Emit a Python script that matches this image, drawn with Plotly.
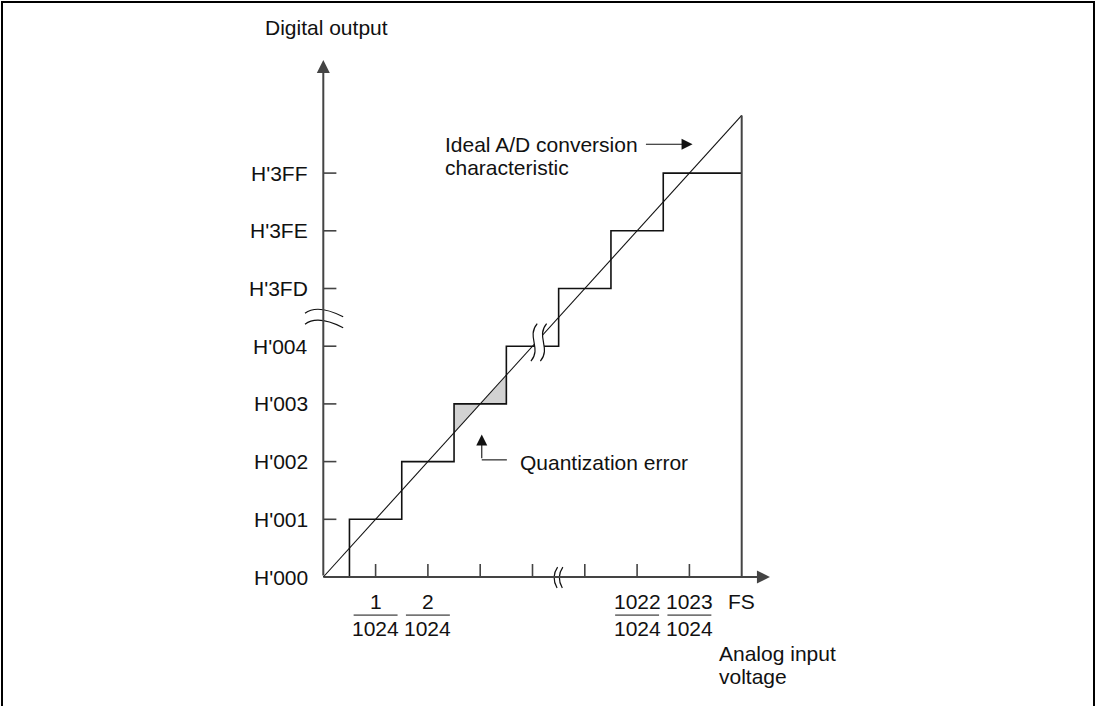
import plotly.graph_objects as go

# ── Data (axis units: one LSB step = one unit on both axes) ──────────────────
code_pos = [0, 1, 2, 3, 4, 5, 6, 7]
code_labels = ["H'000", "H'001", "H'002", "H'003", "H'004", "H'3FD", "H'3FE", "H'3FF"]
x_tick_pos = [1, 2, 3, 4, 5, 6, 7]
frac_pos = [1, 2, 6, 7]
frac_num = ["1", "2", "1022", "1023"]
frac_den = ["1024", "1024", "1024", "1024"]
fs_pos = 8

stair_x = [0, 0.5, 0.5, 1.5, 1.5, 2.5, 2.5, 3.5, 3.5, 4.5, 4.5, 5.5, 5.5, 6.5, 6.5, 8]
stair_y = [0, 0, 1, 1, 2, 2, 3, 3, 4, 4, 5, 5, 6, 6, 7, 7]
ideal_x = [0, 8]
ideal_y = [0, 8]
err1_x = [2.5, 2.5, 3]
err1_y = [2.5, 3, 3]
err2_x = [3, 3.5, 3.5]
err2_y = [3, 3, 3.5]

# ── Layout geometry (pixels → units) ─────────────────────────────────────────
W, H = 1098, 706
X0_PX, Y0_PX = 323.3, 577.0      # origin in pixels
UX, UY = 52.3, 57.7              # pixels per unit
XR = [-X0_PX / UX, (W - X0_PX) / UX]
YR = [(Y0_PX - H) / UY, Y0_PX / UY]

AXIS = "#444444"
INK = "#111111"
FONT = dict(family="Liberation Sans, Arial, sans-serif", size=21, color=INK)
X_TIP, Y_TIP = 8.54, 8.96
TICK_X, TICK_Y = 0.25, 0.225

fig = go.Figure()

# shaded quantization error
for ex, ey in [(err1_x, err1_y), (err2_x, err2_y)]:
    fig.add_trace(go.Scatter(x=ex, y=ey, mode="lines", fill="toself",
                             fillcolor="#d2d2d2", line=dict(width=0),
                             hoverinfo="skip"))

# ideal characteristic
fig.add_trace(go.Scatter(x=ideal_x, y=ideal_y, mode="lines",
                         line=dict(color=INK, width=1.1), hoverinfo="skip"))
# staircase
fig.add_trace(go.Scatter(x=stair_x, y=stair_y, mode="lines",
                         line=dict(color=INK, width=1.6), hoverinfo="skip"))

# FS vertical
fig.add_trace(go.Scatter(x=[fs_pos, fs_pos], y=[0, ideal_y[-1]], mode="lines",
                         line=dict(color=AXIS, width=2), hoverinfo="skip"))

# tick marks
tx, ty = [], []
for p in x_tick_pos:
    tx += [p, p, None]
    ty += [0, TICK_Y, None]
for p in code_pos[1:]:
    tx += [0, TICK_X, None]
    ty += [p, p, None]
fig.add_trace(go.Scatter(x=tx, y=ty, mode="lines",
                         line=dict(color=AXIS, width=1.6), hoverinfo="skip"))

# axes with arrowheads
fig.add_annotation(x=0, y=Y_TIP, ax=0, ay=0, axref="x", ayref="y", text="",
                   showarrow=True, arrowhead=2, arrowsize=1.3, arrowwidth=2,
                   arrowcolor=AXIS)
fig.add_annotation(x=X_TIP, y=0, ax=0, ay=0, axref="x", ayref="y", text="",
                   showarrow=True, arrowhead=2, arrowsize=1.3, arrowwidth=2,
                   arrowcolor=AXIS)

# break marks --------------------------------------------------------------
shapes = []


def s_curve(xc, yt, yb, dx):
    return (f"M {xc + dx},{yt} C {xc - 2.5 * dx},{yt - (yt - yb) * 0.35} "
            f"{xc + 2.5 * dx},{yb + (yt - yb) * 0.35} {xc - dx},{yb}")


# break on the staircase / ideal line
c1, c2, yt, yb = 4.03, 4.21, 4.39, 3.74
d = 0.06
gap = (f"M {c1 + d},{yt} C {c1 - 2.5 * d},{yt - (yt - yb) * 0.35} "
       f"{c1 + 2.5 * d},{yb + (yt - yb) * 0.35} {c1 - d},{yb} "
       f"L {c2 - d},{yb} C {c2 + 2.5 * d},{yb + (yt - yb) * 0.35} "
       f"{c2 - 2.5 * d},{yt - (yt - yb) * 0.35} {c2 + d},{yt} Z")
shapes.append(dict(type="path", path=gap, xref="x", yref="y",
                   fillcolor="white", line=dict(width=0), layer="above"))
for c in (c1, c2):
    shapes.append(dict(type="path", path=s_curve(c, yt, yb, d), xref="x",
                       yref="y", line=dict(color=INK, width=1.2), layer="above"))

# break on the y axis
for v in (4.59, 4.40):
    wave = (f"M -0.35,{v - 0.02} C -0.15,{v + 0.12} 0.12,{v + 0.04} "
            f"0.38,{v - 0.08}")
    shapes.append(dict(type="path", path=wave, xref="x", yref="y",
                       line=dict(color=INK, width=1.2), layer="above"))

# break on the x axis
for c in (4.44, 4.54):
    arc = f"M {c + 0.04},0.17 Q {c - 0.09},0.0 {c + 0.03},-0.19"
    shapes.append(dict(type="path", path=arc, xref="x", yref="y",
                       line=dict(color=INK, width=1.2), layer="above"))

# fraction bars
for p in frac_pos:
    shapes.append(dict(type="line", xref="x", yref="y", x0=p - 0.42, x1=p + 0.42,
                       y0=-0.66, y1=-0.66, line=dict(color=INK, width=1)))

# frame (open at the bottom)
shapes.append(dict(type="path", xref="paper", yref="paper",
                   path=f"M {2 / W},0 L {2 / W},{1 - 2 / H} L {1 - 4 / W},{1 - 2 / H} L {1 - 4 / W},0",
                   line=dict(color="black", width=2)))

# ── Text ──────────────────────────────────────────────────────────────────────
ann = []
for p, lab in zip(code_pos, code_labels):
    ann.append(dict(x=-0.25, y=p, text=lab, xanchor="right", yanchor="middle"))
for p, n, dn in zip(frac_pos, frac_num, frac_den):
    ann.append(dict(x=p, y=-0.43, text=n, xanchor="center", yanchor="middle"))
    ann.append(dict(x=p, y=-0.89, text=dn, xanchor="center", yanchor="middle"))
ann.append(dict(x=fs_pos, y=-0.43, text="FS", xanchor="center", yanchor="middle"))
ann.append(dict(x=0.07, y=9.53, text="Digital output", xanchor="center", yanchor="middle"))
ann.append(dict(x=7.52, y=-1.32, text="Analog input", xanchor="left", yanchor="middle"))
ann.append(dict(x=7.52, y=-1.72, text="voltage", xanchor="left", yanchor="middle"))
ann.append(dict(x=2.29, y=7.49, text="Ideal A/D conversion", xanchor="left", yanchor="middle"))
ann.append(dict(x=2.29, y=7.09, text="characteristic", xanchor="left", yanchor="middle"))
ann.append(dict(x=3.72, y=1.99, text="Quantization error", xanchor="left", yanchor="middle"))
for a in ann:
    fig.add_annotation(showarrow=False, font=FONT, **a)

# pointer arrows
fig.add_annotation(x=7.06, y=7.50, ax=6.14, ay=7.50, axref="x", ayref="y", text="",
                   showarrow=True, arrowhead=2, arrowsize=2, arrowwidth=1.1,
                   arrowcolor=INK)
fig.add_trace(go.Scatter(x=[3.51, 3.03], y=[2.03, 2.03], mode="lines",
                         line=dict(color=INK, width=1.1), hoverinfo="skip"))
fig.add_annotation(x=3.03, y=2.47, ax=3.03, ay=2.03, axref="x", ayref="y", text="",
                   showarrow=True, arrowhead=2, arrowsize=2, arrowwidth=1.1,
                   arrowcolor=INK)

fig.update_layout(
    width=W, height=H,
    margin=dict(l=0, r=0, t=0, b=0),
    paper_bgcolor="white", plot_bgcolor="white",
    showlegend=False,
    shapes=shapes,
    xaxis=dict(range=XR, visible=False, fixedrange=True),
    yaxis=dict(range=YR, visible=False, fixedrange=True),
)

# drop the default 8px page margin so the figure fills the window exactly
fig.write_html("out.html", config={"displayModeBar": False},
               post_script="document.body.style.margin='0';")
